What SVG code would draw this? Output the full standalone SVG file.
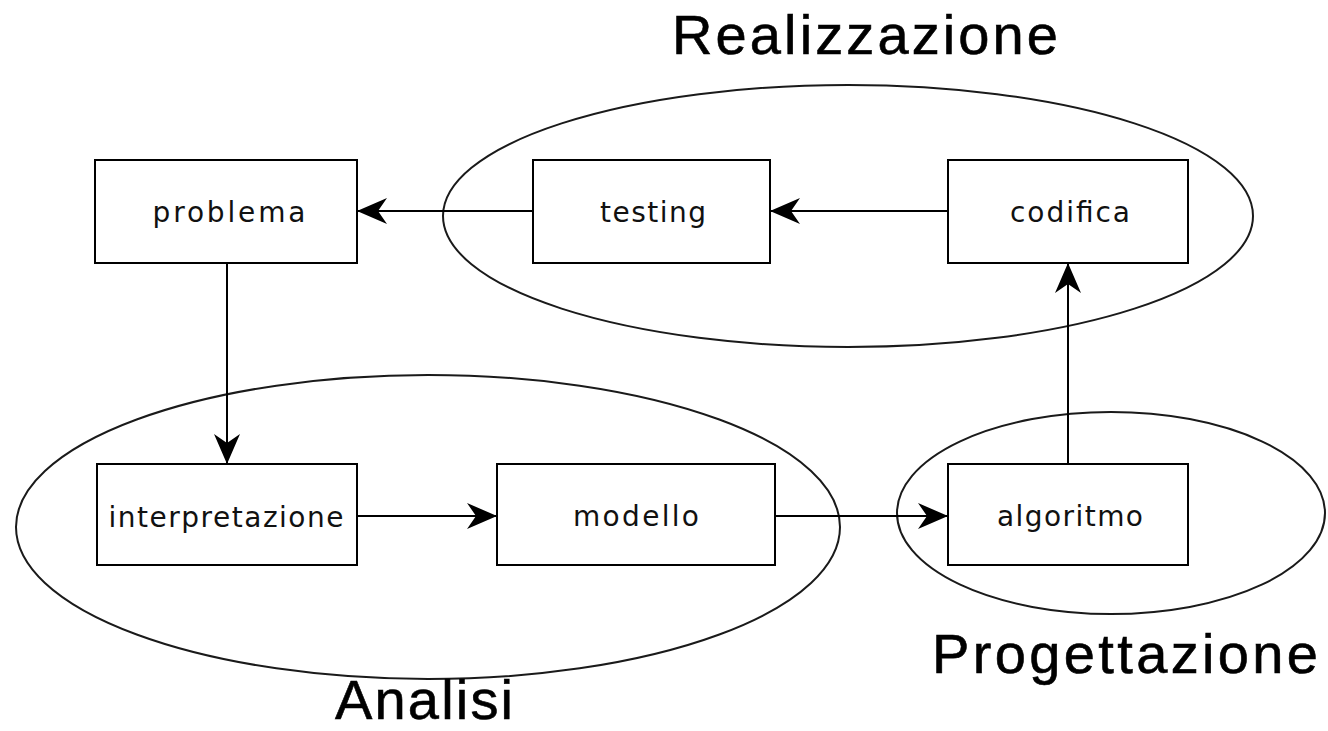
<svg xmlns="http://www.w3.org/2000/svg" width="1328" height="731" viewBox="0 0 1328 731">
  <style>
    .box { fill: #ffffff; stroke: #000000; stroke-width: 2; }
    .phase { fill: none; stroke: #1a1a1a; stroke-width: 2; }
    .edge { fill: none; stroke: #000000; stroke-width: 2; marker-end: url(#arrow); }
    .label { font-family: "DejaVu Sans", "Liberation Sans", sans-serif; font-size: 28px; fill: #111111; text-anchor: middle; }
    .title { font-family: "Liberation Sans", Arial, sans-serif; font-size: 56px; fill: #000000; stroke: #000000; stroke-width: 0.6; }
  </style>
  <defs>
    <marker id="arrow" viewBox="0 0 30 26" refX="30" refY="13" markerWidth="30" markerHeight="26" markerUnits="userSpaceOnUse" orient="auto">
      <path d="M30,13 L0,0 L9,13 L0,26 Z" fill="#000000"/>
    </marker>
  </defs>

  <!-- phase groupings -->
  <g id="phase-realizzazione">
    <ellipse class="phase" cx="848" cy="216" rx="405" ry="131"/>
    <text class="title" x="672" y="54" textLength="386" lengthAdjust="spacing">Realizzazione</text>
  </g>
  <g id="phase-analisi">
    <ellipse class="phase" cx="428" cy="527" rx="412" ry="152"/>
    <text class="title" x="335" y="719" font-size="54" textLength="178" lengthAdjust="spacing">Analisi</text>
  </g>
  <g id="phase-progettazione">
    <ellipse class="phase" cx="1111" cy="513" rx="214" ry="101"/>
    <text class="title" x="932" y="673" textLength="386" lengthAdjust="spacing">Progettazione</text>
  </g>

  <!-- connectors -->
  <g id="connectors">
    <line class="edge" x1="227" y1="263" x2="227" y2="464"/>
    <line class="edge" x1="533" y1="211" x2="357" y2="211"/>
    <line class="edge" x1="948" y1="211" x2="770" y2="211"/>
    <line class="edge" x1="357" y1="516" x2="497" y2="516"/>
    <line class="edge" x1="775" y1="516" x2="948" y2="516"/>
    <line class="edge" x1="1068" y1="464" x2="1068" y2="263"/>
  </g>

  <!-- nodes -->
  <g id="node-problema">
    <rect class="box" x="95" y="160" width="262" height="103"/>
    <text class="label" x="229" y="222" textLength="153" lengthAdjust="spacing">problema</text>
  </g>
  <g id="node-testing">
    <rect class="box" x="533" y="160" width="237" height="103"/>
    <text class="label" x="653" y="222" textLength="106" lengthAdjust="spacing">testing</text>
  </g>
  <g id="node-codifica">
    <rect class="box" x="948" y="160" width="240" height="103"/>
    <text class="label" x="1070" y="222" textLength="120" lengthAdjust="spacing">codifica</text>
  </g>
  <g id="node-interpretazione">
    <rect class="box" x="97" y="464" width="260" height="101"/>
    <text class="label" x="226" y="527" textLength="235" lengthAdjust="spacing">interpretazione</text>
  </g>
  <g id="node-modello">
    <rect class="box" x="497" y="464" width="278" height="101"/>
    <text class="label" x="636" y="526" textLength="126" lengthAdjust="spacing">modello</text>
  </g>
  <g id="node-algoritmo">
    <rect class="box" x="948" y="464" width="240" height="101"/>
    <text class="label" x="1070" y="526" textLength="146" lengthAdjust="spacing">algoritmo</text>
  </g>
</svg>
